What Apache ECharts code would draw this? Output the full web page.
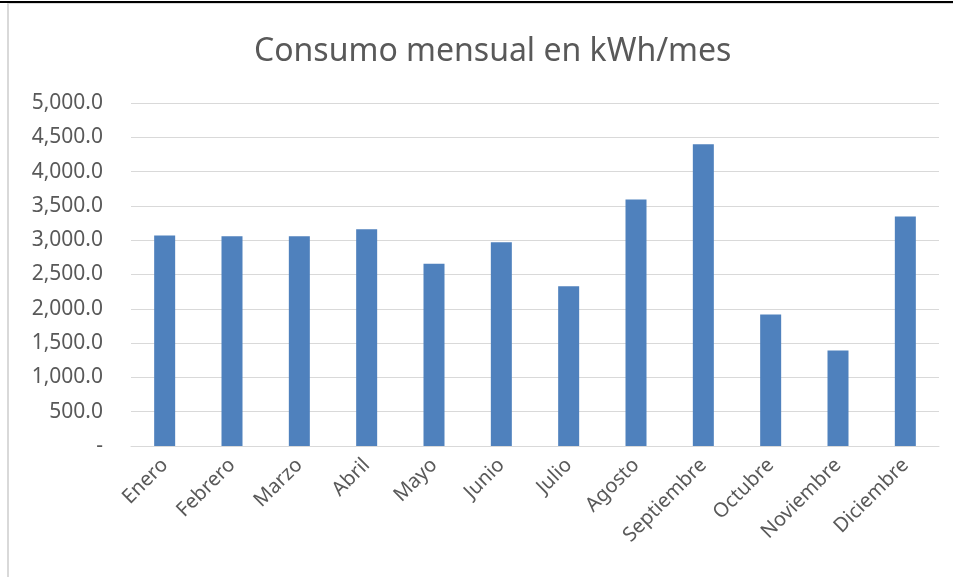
<!DOCTYPE html>
<html>
<head>
<meta charset="utf-8">
<script src="https://cdn.jsdelivr.net/npm/echarts@6/dist/echarts.min.js"></script>
<style>
  html, body { margin: 0; padding: 0; background: #fff; }
  #wrap { position: relative; width: 953px; height: 577px; overflow: hidden; }
  #consumoChart { position: absolute; left: 0; top: 0; width: 953px; height: 577px; }
  .lineTop { position: absolute; left: 0; top: 1px; width: 953px; height: 2px; background: #000; }
  .frameTop { position: absolute; left: 7px; top: 3px; width: 946px; height: 1px; background: #d9d9d9; }
  .frameLeft { position: absolute; left: 7px; top: 3px; width: 2px; height: 574px; background: #d9d9d9; }
</style>
</head>
<body>
<div id="wrap">
  <div id="consumoChart"></div>
  <div class="lineTop"></div>
  <div class="frameTop"></div>
  <div class="frameLeft"></div>
</div>
<script>
const meses = ["Enero", "Febrero", "Marzo", "Abril", "Mayo", "Junio", "Julio",
  "Agosto", "Septiembre", "Octubre", "Noviembre", "Diciembre"];
const consumoKwh = [3068, 3058, 3058, 3160, 2655, 2971, 2330, 3593, 4398, 1918, 1393, 3345];
const yTicks = [0, 500, 1000, 1500, 2000, 2500, 3000, 3500, 4000, 4500, 5000];

function formatoEje(v) {
  if (v === 0) return "-";
  return v.toFixed(1).replace(/\B(?=(\d{3})+(?!\d))/g, ",");
}

let chart = echarts.init(document.getElementById("consumoChart"));
let option = {
  animation: false,
  title: {
    text: "Consumo mensual en kWh/mes",
    left: 249,
    top: 31,
    textStyle: { color: "#595959", fontSize: 32, fontWeight: "normal", fontFamily: "Noto Sans" },
  },
  grid: { left: 131, right: 14, top: 103, bottom: 131 },
  xAxis: {
    type: "category",
    data: meses,
    axisLine: { lineStyle: { color: "#d9d9d9", width: 1 } },
    axisTick: { show: false },
    axisLabel: {
      rotate: 45,
      margin: 16,
      interval: 0,
      color: "#595959",
      fontSize: 20,
      fontFamily: "Noto Sans",
    },
  },
  yAxis: {
    type: "value",
    min: yTicks[0],
    max: yTicks[yTicks.length - 1],
    interval: 500,
    axisLine: { show: false },
    axisTick: { show: false },
    splitLine: { lineStyle: { color: "#d9d9d9", width: 1 } },
    axisLabel: {
      margin: 28,
      color: "#595959",
      fontSize: 21,
      fontFamily: "Noto Sans",
      formatter: formatoEje,
    },
  },
  series: [
    {
      type: "bar",
      data: consumoKwh,
      barWidth: 21,
      itemStyle: { color: "#4f81bd" },
    },
  ],
};
chart.setOption(option, true);
</script>
</body>
</html>
